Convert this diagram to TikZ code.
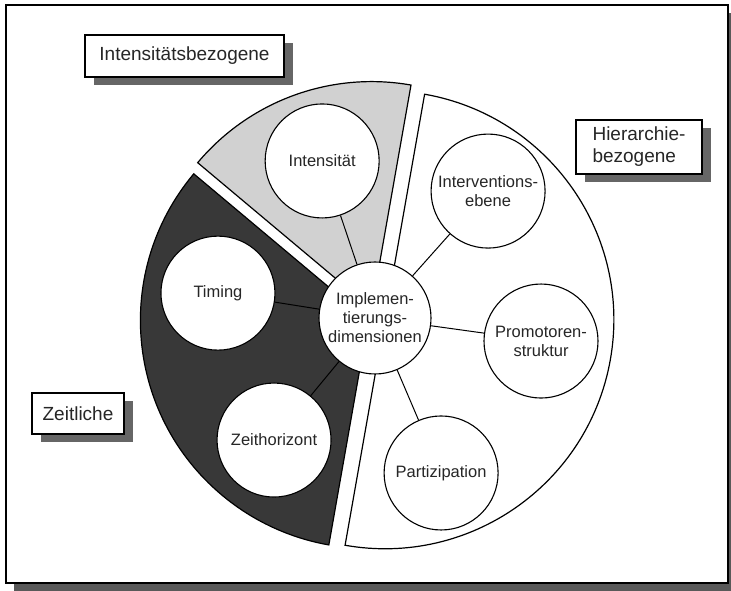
\documentclass[tikz,border=0pt]{standalone}
\usepackage{fontspec}
\setmainfont{Liberation Sans}
\usepackage{tikz}
\usetikzlibrary{shadows}
\tikzset{
	dim/.style={% circles for the single dimensions
		draw, shape=circle, fill=white,
		line width=1.1pt,
		minimum size=114pt,
		inner sep=0pt,
		align=center,
		font=\fontsize{16.5}{19}\selectfont
	},
	group/.style={% boxes naming the groups, with shadow
		draw, rectangle, fill=white,
		line width=1.1pt,
		inner sep=0pt,
		align=left,
		font=\fontsize{19}{22}\selectfont,
		drop shadow={shadow xshift=9pt, shadow yshift=-8pt, fill=black!60, opacity=1}
	},
	wedge/.style={draw, line width=1.2pt, line join=miter},
	link/.style={line width=1pt}
}

\begin{document}
\begin{tikzpicture}[x=1pt, y=1pt, every node/.append style={text=black!85}]
		\useasboundingbox (0,0) rectangle (731,591);
		\draw [line width=1.5pt, fill=white,
		drop shadow={shadow xshift=8pt, shadow yshift=-8pt, fill=black!65, opacity=1}]
		(6,8) rectangle (728,586);
		
		\coordinate (hub) at (375,273);
		% pie pieces, each pushed out a little
		\coordinate (tipI) at ([shift={(110:10)}]hub);
		\coordinate (tipZ) at ([shift={(200:7)}]hub);
		\coordinate (tipH) at ([shift={(-10:10)}]hub);
		\path [wedge, fill=black!18] (tipI) -- ++(80:227)
		arc [start angle=80, end angle=140, radius=227] -- cycle;
		\path [wedge, fill=black!78] (tipZ) -- ++(140:228)
		arc [start angle=140, end angle=260, radius=228] -- cycle;
		\path [wedge, fill=white] (tipH) -- ++(-100:229)
		arc [start angle=-100, end angle=80, radius=229] -- cycle;
		
		\node [dim, minimum size=112pt] (core) at (hub) {Implemen-\\tierungs-\\dimensionen};
		\node [dim] (intens) at ([shift={(108.6:165.7)}]hub) {Intensität};
		\node [dim] (timing) at ([shift={(171:159)}]hub) {Timing};
		\node [dim] (horizon) at ([shift={(230.4:158.4)}]hub) {Zeithorizont};
		\node [dim] (level) at ([shift={(48.3:170)}]hub) {Interventions-\\ebene};
		\node [dim] (promo) at ([shift={(-7.9:167.6)}]hub) {Promotoren-\\struktur};
		\node [dim] (partiz) at ([shift={(-66.9:168.5)}]hub) {Partizipation};
		
		\draw [link] (core) -- (intens);
		\draw [link] (core) -- (timing);
		\draw [link] (core) -- (horizon);
		\draw [link] (core) -- (level);
		\draw [link] (core) -- (promo);
		\draw [link] (core) -- (partiz);
		
		\node [group, minimum width=199pt, minimum height=42pt] (intensgrp) at (184.5,535) {Intensitätsbezogene};
		\node [group, minimum width=126pt, minimum height=54pt] (hiergrp) at (639,444) {Hierarchie-\\bezogene};
		\node [group, minimum width=92pt, minimum height=41pt] (zeitgrp) at (78,177.5) {Zeitliche};
	\end{tikzpicture}
\end{document}
